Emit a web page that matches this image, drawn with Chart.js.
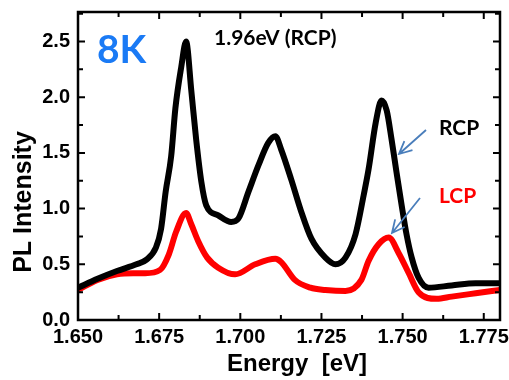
<!DOCTYPE html>
<html>
<head>
<meta charset="utf-8">
<script src="https://cdn.jsdelivr.net/npm/chart.js@4.4.1/dist/chart.umd.min.js"></script>
<style>
html,body{margin:0;padding:0;background:#fff;}
#wrap{width:509px;height:380px;position:relative;}
</style>
</head>
<body>
<div id="wrap"><canvas id="c" width="509" height="380"></canvas></div>
<script>
// ---- data ----
const rcpEnergy = [1.650,1.656,1.662,1.668,1.671,1.674,1.6756,1.677,1.6787,1.680,1.6818,1.6833,1.6849,1.6864,1.688,1.6895,1.6932,1.6972,1.6994,1.7025,1.7056,1.7086,1.7108,1.7126,1.7157,1.7188,1.7219,1.7262,1.7293,1.7324,1.7355,1.738,1.7395,1.7417,1.7435,1.7451,1.7466,1.7481,1.7497,1.7512,1.7528,1.7549,1.758,1.7651,1.7725,1.780];
const rcpIntensity = [0.29,0.37,0.44,0.50,0.54,0.65,0.82,1.15,1.47,1.90,2.27,2.50,2.06,1.62,1.24,1.03,0.94,0.88,0.91,1.15,1.39,1.59,1.65,1.53,1.26,0.97,0.73,0.56,0.50,0.56,0.77,1.12,1.35,1.77,1.97,1.88,1.62,1.33,1.03,0.77,0.56,0.38,0.29,0.31,0.33,0.33];
const lcpEnergy = [1.650,1.656,1.662,1.667,1.6707,1.6753,1.678,1.6802,1.6833,1.6849,1.687,1.6898,1.6932,1.6984,1.7046,1.7108,1.7126,1.7168,1.7216,1.7262,1.7324,1.7373,1.7395,1.7426,1.7457,1.7488,1.7519,1.7549,1.7605,1.7651,1.7725,1.780];
const lcpIntensity = [0.27,0.36,0.41,0.42,0.42,0.45,0.59,0.79,0.96,0.86,0.71,0.56,0.47,0.41,0.50,0.55,0.52,0.36,0.29,0.27,0.26,0.36,0.53,0.68,0.74,0.60,0.42,0.25,0.19,0.21,0.24,0.27];
const xTickStep = 0.025;
const yTickStep = 0.5;
const xRange = [1.650, 1.780];
const yRange = [0, 2.765];

const pts = (xs, ys) => xs.map((x, i) => ({x, y: ys[i]}));

const axisFont = "'Liberation Sans', Arial, sans-serif";
const noteFont = "Lato, 'Open Sans', sans-serif";

const framePlugin = {
  id: 'frame',
  afterDraw(chart) {
    const {ctx, chartArea: a, scales: {x, y}} = chart;
    ctx.save();
    ctx.strokeStyle = '#000';
    ctx.lineWidth = 2.5;
    ctx.strokeRect(a.left, a.top, a.right - a.left, a.bottom - a.top);
    ctx.lineWidth = 2;
    for (let i = 0; ; i++) {
      const v = xRange[0] + i * xTickStep / 2;
      if (v > xRange[1] + 1e-9) break;
      const px = x.getPixelForValue(v);
      const len = (i % 2 === 0) ? 7 : 5;
      ctx.beginPath();
      ctx.moveTo(px, a.bottom); ctx.lineTo(px, a.bottom - len);
      ctx.moveTo(px, a.top); ctx.lineTo(px, a.top + len);
      ctx.stroke();
    }
    for (let i = 0; ; i++) {
      const v = yRange[0] + i * yTickStep / 2;
      if (v > yRange[1] + 1e-9) break;
      const py = y.getPixelForValue(v);
      const len = (i % 2 === 0) ? 7 : 5;
      ctx.beginPath();
      ctx.moveTo(a.left, py); ctx.lineTo(a.left + len, py);
      ctx.moveTo(a.right, py); ctx.lineTo(a.right - len, py);
      ctx.stroke();
    }
    ctx.fillStyle = '#000';
    ctx.font = "bold 24px " + axisFont;
    ctx.textAlign = 'center';
    ctx.textBaseline = 'alphabetic';
    ctx.fillText('Energy  [eV]', 297, 371);
    ctx.save();
    ctx.translate(31, 202);
    ctx.rotate(-Math.PI / 2);
    ctx.font = "bold 25px " + axisFont;
    ctx.fillText('PL Intensity', 0, 0);
    ctx.restore();
    ctx.textAlign = 'left';
    ctx.font = "bold 39px " + noteFont;
    ctx.fillStyle = '#1a7af5';
    ctx.fillText('8K', 97, 63);
    ctx.font = "bold 21px " + noteFont;
    ctx.fillStyle = '#000';
    ctx.fillText('1.96eV (RCP)', 214, 45);
    ctx.fillText('RCP', 439, 135);
    ctx.fillStyle = '#ff0000';
    ctx.fillText('LCP', 439, 203);
    const arrow = (x1, y1, x2, y2) => {
      ctx.strokeStyle = '#4a7ebb';
      ctx.lineWidth = 1.8;
      ctx.beginPath();
      ctx.moveTo(x1, y1); ctx.lineTo(x2, y2);
      const ang = Math.atan2(y2 - y1, x2 - x1);
      const h = 14, s = 0.45;
      ctx.moveTo(x2 - h * Math.cos(ang - s), y2 - h * Math.sin(ang - s));
      ctx.lineTo(x2, y2);
      ctx.lineTo(x2 - h * Math.cos(ang + s), y2 - h * Math.sin(ang + s));
      ctx.stroke();
    };
    arrow(426, 130, 399, 154);
    arrow(420, 198, 392, 233);
    ctx.restore();
  }
};

new Chart(document.getElementById('c'), {
  type: 'line',
  data: {
    datasets: [
      {label: 'RCP', data: pts(rcpEnergy, rcpIntensity), borderColor: '#000', borderWidth: 6, pointRadius: 0, cubicInterpolationMode: 'monotone', borderJoinStyle: 'round', order: 1},
      {label: 'LCP', data: pts(lcpEnergy, lcpIntensity), borderColor: '#ff0000', borderWidth: 6, pointRadius: 0, cubicInterpolationMode: 'monotone', borderJoinStyle: 'round', order: 2}
    ]
  },
  options: {
    responsive: false,
    animation: false,
    devicePixelRatio: 1,
    layout: {padding: {left: 0, right: 9, top: 7, bottom: 0}},
    plugins: {legend: {display: false}, tooltip: {enabled: false}},
    scales: {
      x: {
        type: 'linear', min: xRange[0], max: xRange[1],
        grid: {display: false}, border: {display: false},
        ticks: {stepSize: xTickStep, includeBounds: false, color: '#000', padding: -3, maxRotation: 0,
          font: {family: axisFont, size: 20, weight: 'bold'},
          callback: v => Number(v).toFixed(3)},
        afterFit: s => { s.height = 60; }
      },
      y: {
        type: 'linear', min: yRange[0], max: yRange[1],
        grid: {display: false}, border: {display: false},
        ticks: {stepSize: yTickStep, includeBounds: false, color: '#000', padding: 0,
          font: {family: axisFont, size: 20, weight: 'bold'},
          callback: v => Number(v).toFixed(1)},
        afterFit: s => { s.width = 78; }
      }
    }
  },
  plugins: [framePlugin]
});
</script>
</body>
</html>
